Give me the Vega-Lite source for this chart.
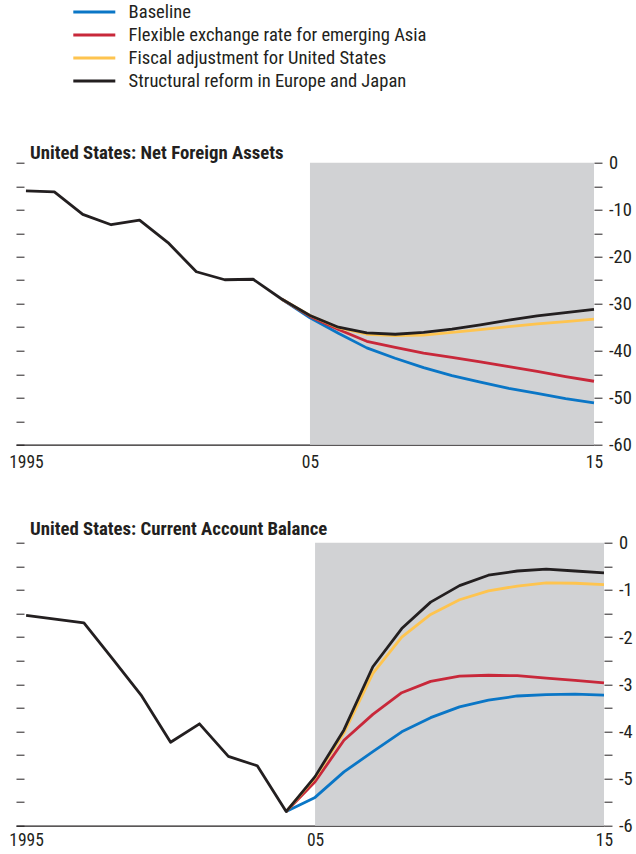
{
  "$schema": "https://vega.github.io/schema/vega-lite/v6.json",
  "padding": {"left": 8, "top": 2.7, "right": 0, "bottom": 0},
  "spacing": 48,
  "config": {
    "view": {"stroke": null},
    "font": "Roboto Condensed",
    "axis": {"grid": false, "title": null, "labelFont": "Roboto Condensed", "labelColor": "#231f20", "tickColor": "#231f20", "domainColor": "#231f20", "labelFlush": false, "labelOverlap": false},
    "legend": {"labelFont": "Roboto Condensed"},
    "title": {"color": "#231f20", "font": "Roboto Condensed"}
  },
  "datasets": {
    "shade": [{"start": 2005, "end": 2015}],
    "nfa": [
      {"s": "Baseline", "x": 2004, "v": -29.0},
      {"s": "Baseline", "x": 2005, "v": -33.0},
      {"s": "Baseline", "x": 2006, "v": -36.3},
      {"s": "Baseline", "x": 2007, "v": -39.4},
      {"s": "Baseline", "x": 2008, "v": -41.6},
      {"s": "Baseline", "x": 2009, "v": -43.6},
      {"s": "Baseline", "x": 2010, "v": -45.3},
      {"s": "Baseline", "x": 2011, "v": -46.7},
      {"s": "Baseline", "x": 2012, "v": -48.0},
      {"s": "Baseline", "x": 2013, "v": -49.1},
      {"s": "Baseline", "x": 2014, "v": -50.2},
      {"s": "Baseline", "x": 2015, "v": -51.1},
      {"s": "Flexible exchange rate for emerging Asia", "x": 2004, "v": -29.0},
      {"s": "Flexible exchange rate for emerging Asia", "x": 2005, "v": -32.7},
      {"s": "Flexible exchange rate for emerging Asia", "x": 2006, "v": -35.5},
      {"s": "Flexible exchange rate for emerging Asia", "x": 2007, "v": -38.0},
      {"s": "Flexible exchange rate for emerging Asia", "x": 2008, "v": -39.3},
      {"s": "Flexible exchange rate for emerging Asia", "x": 2009, "v": -40.5},
      {"s": "Flexible exchange rate for emerging Asia", "x": 2010, "v": -41.4},
      {"s": "Flexible exchange rate for emerging Asia", "x": 2011, "v": -42.4},
      {"s": "Flexible exchange rate for emerging Asia", "x": 2012, "v": -43.4},
      {"s": "Flexible exchange rate for emerging Asia", "x": 2013, "v": -44.4},
      {"s": "Flexible exchange rate for emerging Asia", "x": 2014, "v": -45.5},
      {"s": "Flexible exchange rate for emerging Asia", "x": 2015, "v": -46.5},
      {"s": "Fiscal adjustment for United States", "x": 2004, "v": -29.0},
      {"s": "Fiscal adjustment for United States", "x": 2005, "v": -32.5},
      {"s": "Fiscal adjustment for United States", "x": 2006, "v": -35.1},
      {"s": "Fiscal adjustment for United States", "x": 2007, "v": -36.5},
      {"s": "Fiscal adjustment for United States", "x": 2008, "v": -36.8},
      {"s": "Fiscal adjustment for United States", "x": 2009, "v": -36.7},
      {"s": "Fiscal adjustment for United States", "x": 2010, "v": -36.1},
      {"s": "Fiscal adjustment for United States", "x": 2011, "v": -35.5},
      {"s": "Fiscal adjustment for United States", "x": 2012, "v": -34.9},
      {"s": "Fiscal adjustment for United States", "x": 2013, "v": -34.3},
      {"s": "Fiscal adjustment for United States", "x": 2014, "v": -33.8},
      {"s": "Fiscal adjustment for United States", "x": 2015, "v": -33.3},
      {"s": "Structural reform in Europe and Japan", "x": 2004, "v": -29.0},
      {"s": "Structural reform in Europe and Japan", "x": 2005, "v": -32.5},
      {"s": "Structural reform in Europe and Japan", "x": 2006, "v": -35.0},
      {"s": "Structural reform in Europe and Japan", "x": 2007, "v": -36.2},
      {"s": "Structural reform in Europe and Japan", "x": 2008, "v": -36.5},
      {"s": "Structural reform in Europe and Japan", "x": 2009, "v": -36.1},
      {"s": "Structural reform in Europe and Japan", "x": 2010, "v": -35.4},
      {"s": "Structural reform in Europe and Japan", "x": 2011, "v": -34.5},
      {"s": "Structural reform in Europe and Japan", "x": 2012, "v": -33.5},
      {"s": "Structural reform in Europe and Japan", "x": 2013, "v": -32.6},
      {"s": "Structural reform in Europe and Japan", "x": 2014, "v": -31.9},
      {"s": "Structural reform in Europe and Japan", "x": 2015, "v": -31.2},
      {"s": "Structural reform in Europe and Japan", "x": 1995, "v": -6.0},
      {"s": "Structural reform in Europe and Japan", "x": 1996, "v": -6.2},
      {"s": "Structural reform in Europe and Japan", "x": 1997, "v": -11.0},
      {"s": "Structural reform in Europe and Japan", "x": 1998, "v": -13.2},
      {"s": "Structural reform in Europe and Japan", "x": 1999, "v": -12.2},
      {"s": "Structural reform in Europe and Japan", "x": 2000, "v": -17.0},
      {"s": "Structural reform in Europe and Japan", "x": 2001, "v": -23.2},
      {"s": "Structural reform in Europe and Japan", "x": 2002, "v": -24.9},
      {"s": "Structural reform in Europe and Japan", "x": 2003, "v": -24.8}
    ],
    "ca": [
      {"s": "Baseline", "x": 2004, "v": -5.70},
      {"s": "Baseline", "x": 2005, "v": -5.40},
      {"s": "Baseline", "x": 2006, "v": -4.86},
      {"s": "Baseline", "x": 2007, "v": -4.43},
      {"s": "Baseline", "x": 2008, "v": -4.01},
      {"s": "Baseline", "x": 2009, "v": -3.71},
      {"s": "Baseline", "x": 2010, "v": -3.48},
      {"s": "Baseline", "x": 2011, "v": -3.34},
      {"s": "Baseline", "x": 2012, "v": -3.25},
      {"s": "Baseline", "x": 2013, "v": -3.22},
      {"s": "Baseline", "x": 2014, "v": -3.21},
      {"s": "Baseline", "x": 2015, "v": -3.23},
      {"s": "Flexible exchange rate for emerging Asia", "x": 2004, "v": -5.70},
      {"s": "Flexible exchange rate for emerging Asia", "x": 2005, "v": -5.07},
      {"s": "Flexible exchange rate for emerging Asia", "x": 2006, "v": -4.19},
      {"s": "Flexible exchange rate for emerging Asia", "x": 2007, "v": -3.64},
      {"s": "Flexible exchange rate for emerging Asia", "x": 2008, "v": -3.18},
      {"s": "Flexible exchange rate for emerging Asia", "x": 2009, "v": -2.94},
      {"s": "Flexible exchange rate for emerging Asia", "x": 2010, "v": -2.83},
      {"s": "Flexible exchange rate for emerging Asia", "x": 2011, "v": -2.81},
      {"s": "Flexible exchange rate for emerging Asia", "x": 2012, "v": -2.82},
      {"s": "Flexible exchange rate for emerging Asia", "x": 2013, "v": -2.87},
      {"s": "Flexible exchange rate for emerging Asia", "x": 2014, "v": -2.92},
      {"s": "Flexible exchange rate for emerging Asia", "x": 2015, "v": -2.97},
      {"s": "Fiscal adjustment for United States", "x": 2004, "v": -5.70},
      {"s": "Fiscal adjustment for United States", "x": 2005, "v": -4.98},
      {"s": "Fiscal adjustment for United States", "x": 2006, "v": -4.03},
      {"s": "Fiscal adjustment for United States", "x": 2007, "v": -2.77},
      {"s": "Fiscal adjustment for United States", "x": 2008, "v": -2.00},
      {"s": "Fiscal adjustment for United States", "x": 2009, "v": -1.52},
      {"s": "Fiscal adjustment for United States", "x": 2010, "v": -1.21},
      {"s": "Fiscal adjustment for United States", "x": 2011, "v": -1.02},
      {"s": "Fiscal adjustment for United States", "x": 2012, "v": -0.92},
      {"s": "Fiscal adjustment for United States", "x": 2013, "v": -0.85},
      {"s": "Fiscal adjustment for United States", "x": 2014, "v": -0.86},
      {"s": "Fiscal adjustment for United States", "x": 2015, "v": -0.89},
      {"s": "Structural reform in Europe and Japan", "x": 2004, "v": -5.70},
      {"s": "Structural reform in Europe and Japan", "x": 2005, "v": -4.96},
      {"s": "Structural reform in Europe and Japan", "x": 2006, "v": -3.97},
      {"s": "Structural reform in Europe and Japan", "x": 2007, "v": -2.63},
      {"s": "Structural reform in Europe and Japan", "x": 2008, "v": -1.82},
      {"s": "Structural reform in Europe and Japan", "x": 2009, "v": -1.26},
      {"s": "Structural reform in Europe and Japan", "x": 2010, "v": -0.91},
      {"s": "Structural reform in Europe and Japan", "x": 2011, "v": -0.69},
      {"s": "Structural reform in Europe and Japan", "x": 2012, "v": -0.60},
      {"s": "Structural reform in Europe and Japan", "x": 2013, "v": -0.56},
      {"s": "Structural reform in Europe and Japan", "x": 2014, "v": -0.60},
      {"s": "Structural reform in Europe and Japan", "x": 2015, "v": -0.64},
      {"s": "Structural reform in Europe and Japan", "x": 1995, "v": -1.54},
      {"s": "Structural reform in Europe and Japan", "x": 1996, "v": -1.62},
      {"s": "Structural reform in Europe and Japan", "x": 1997, "v": -1.70},
      {"s": "Structural reform in Europe and Japan", "x": 1998, "v": -2.47},
      {"s": "Structural reform in Europe and Japan", "x": 1999, "v": -3.25},
      {"s": "Structural reform in Europe and Japan", "x": 2000, "v": -4.23},
      {"s": "Structural reform in Europe and Japan", "x": 2001, "v": -3.84},
      {"s": "Structural reform in Europe and Japan", "x": 2002, "v": -4.53},
      {"s": "Structural reform in Europe and Japan", "x": 2003, "v": -4.73}
    ]
  },
  "vconcat": [
    {
      "width": 578,
      "height": 282,
      "title": {"text": "United States: Net Foreign Assets", "anchor": "start", "frame": "group", "baseline": "alphabetic", "offset": -24.3, "dx": 14, "fontSize": 18.8, "fontWeight": "bold"},
      "resolve": {"scale": {"y": "shared"}, "axis": {"y": "independent"}},
      "layer": [
        {
          "data": {"name": "shade"},
          "mark": {"type": "rect", "color": "#d1d2d4"},
          "encoding": {
            "x": {"field": "start", "type": "quantitative", "scale": {"domain": [1994.65, 2015], "nice": false, "zero": false}},
            "x2": {"field": "end"},
            "y": {"datum": 0, "type": "quantitative", "scale": {"domain": [-60, 0], "nice": false},
              "axis": {"orient": "left", "values": [0, -5, -10, -15, -20, -25, -30, -35, -40, -45, -50, -55, -60], "labels": false, "domain": false, "tickSize": 8, "offset": -8,
                "encode": {"ticks": {"update": {"x": {"signal": "datum.value % 10 ? -4 : 0"}, "x2": {"value": -8}}}}}},
            "y2": {"datum": -60}
          }
        },
        {
          "data": {"name": "nfa"},
          "mark": {"type": "line", "strokeWidth": 2.8, "strokeJoin": "round"},
          "encoding": {
            "x": {"field": "x", "type": "quantitative",
              "axis": {"values": [1995,1996,1997,1998,1999,2000,2001,2002,2003,2004,2005,2006,2007,2008,2009,2010,2011,2012,2013,2014,2015], "format": "d", "labelExpr": "datum.value % 5 ? '' : (datum.value <= 2000 ? '' + datum.value : substring('' + datum.value, 2))", "tickSize": 0, "labelPadding": 9, "labelFontSize": 17.5, "domainWidth": 1.2,
                "encode": {"ticks": {"update": {"y": {"value": 0}, "y2": {"signal": "datum.value % 5 ? -3 : -5"}}}}}},
            "y": {"field": "v", "type": "quantitative",
              "axis": {"orient": "right", "values": [0, -5, -10, -15, -20, -25, -30, -35, -40, -45, -50, -55, -60], "labelExpr": "datum.value % 10 ? '' : datum.value", "domain": false, "tickSize": 8, "labelPadding": 6.5, "labelFontSize": 18.5,
                "encode": {"ticks": {"update": {"x": {"signal": "datum.value % 10 ? 4 : 0"}, "x2": {"value": 8}}}}}},
            "color": {"field": "s", "type": "nominal",
              "scale": {"domain": ["Baseline", "Flexible exchange rate for emerging Asia", "Fiscal adjustment for United States", "Structural reform in Europe and Japan"], "range": ["#0a76c6", "#c8283a", "#fec44f", "#231f20"]},
              "legend": {"orient": "none", "legendX": 69, "legendY": -160, "direction": "vertical", "title": null, "symbolType": "M-4.2,0H4.2", "symbolSize": 100, "symbolStrokeWidth": 3, "labelFontSize": 18.6, "labelOffset": 25, "rowPadding": 4.0, "labelColor": "#231f20", "labelLimit": 600}}
          }
        }
      ]
    },
    {
      "width": 588,
      "height": 283,
      "title": {"text": "United States: Current Account Balance", "anchor": "start", "frame": "group", "baseline": "alphabetic", "offset": -20.2, "dx": 14, "fontSize": 18.8, "fontWeight": "bold"},
      "resolve": {"scale": {"y": "shared"}, "axis": {"y": "independent"}},
      "layer": [
        {
          "data": {"name": "shade"},
          "mark": {"type": "rect", "color": "#d1d2d4"},
          "encoding": {
            "x": {"field": "start", "type": "quantitative", "scale": {"domain": [1994.65, 2015], "nice": false, "zero": false}},
            "x2": {"field": "end"},
            "y": {"datum": 0, "type": "quantitative", "scale": {"domain": [-6, 0], "nice": false},
              "axis": {"orient": "left", "values": [0, -0.5, -1, -1.5, -2, -2.5, -3, -3.5, -4, -4.5, -5, -5.5, -6], "labels": false, "domain": false, "tickSize": 8, "offset": -8,
                "encode": {"ticks": {"update": {"x": {"signal": "datum.value % 1 ? -4 : 0"}, "x2": {"value": -8}}}}}},
            "y2": {"datum": -6}
          }
        },
        {
          "data": {"name": "ca"},
          "mark": {"type": "line", "strokeWidth": 2.8, "strokeJoin": "round"},
          "encoding": {
            "x": {"field": "x", "type": "quantitative",
              "axis": {"values": [1995,1996,1997,1998,1999,2000,2001,2002,2003,2004,2005,2006,2007,2008,2009,2010,2011,2012,2013,2014,2015], "format": "d", "labelExpr": "datum.value % 5 ? '' : (datum.value <= 2000 ? '' + datum.value : substring('' + datum.value, 2))", "tickSize": 0, "labelPadding": 6, "labelFontSize": 17.5, "domainWidth": 1.2,
                "encode": {"ticks": {"update": {"y": {"value": 0}, "y2": {"signal": "datum.value % 5 ? -3 : -5"}}}}}},
            "y": {"field": "v", "type": "quantitative",
              "axis": {"orient": "right", "values": [0, -0.5, -1, -1.5, -2, -2.5, -3, -3.5, -4, -4.5, -5, -5.5, -6], "labelExpr": "datum.value % 1 ? '' : datum.value", "domain": false, "tickSize": 8, "labelPadding": 6.5, "labelFontSize": 18.5,
                "encode": {"ticks": {"update": {"x": {"signal": "datum.value % 1 ? 4 : 0"}, "x2": {"value": 8}}}}}},
            "color": {"field": "s", "type": "nominal"}
          }
        }
      ]
    }
  ]
}
